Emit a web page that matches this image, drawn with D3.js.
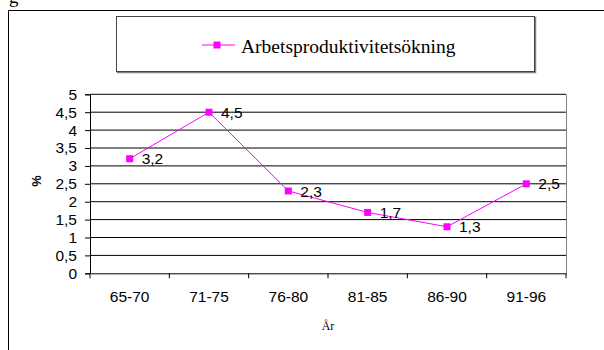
<!DOCTYPE html>
<html>
<head>
<meta charset="utf-8">
<script src="https://cdn.jsdelivr.net/npm/d3@7"></script>
<style>
  html, body { margin: 0; padding: 0; background: #fff; }
  svg { display: block; }
</style>
</head>
<body>
<svg id="chart" width="604" height="350"></svg>
<script>
// Labour productivity growth per period, percent
const periods = ["65-70", "71-75", "76-80", "81-85", "86-90", "91-96"];
const growth = [3.2, 4.5, 2.3, 1.7, 1.3, 2.5];
const yTicks = [0, 0.5, 1, 1.5, 2, 2.5, 3, 3.5, 4, 4.5, 5];
const seriesName = "Arbetsproduktivitetsökning";
const xTitle = "År";
const yTitle = "%";

const svg = d3.select("#chart");
const fmt = v => String(v).replace(".", ",");
const magenta = "#ff00ff";
const sans = "'Liberation Sans', Arial, sans-serif";
const serif = "'Liberation Serif', 'Times New Roman', serif";

const plot = { left: 90, right: 566, top: 94.3, bottom: 273.3 };

const x = d3.scaleBand().domain(periods).range([plot.left, plot.right]);
const y = d3.scaleLinear().domain([0, 5]).range([plot.bottom, plot.top]);

// Fragment of heading text above the frame
svg.append("text")
  .attr("x", 9).attr("y", 3)
  .attr("font-family", serif).attr("font-size", 19)
  .attr("fill", "#000")
  .text("g");

// Outer chart frame (continues past right and bottom edges)
svg.append("path")
  .attr("d", "M8.5,350 V10.5 H604")
  .attr("fill", "none").attr("stroke", "#000").attr("stroke-width", 1);

// Legend box
const lg = { x: 116.5, y: 16.5, w: 418, h: 55 };
svg.append("rect")
  .attr("x", lg.x + 1).attr("y", lg.y + 1).attr("width", lg.w).attr("height", lg.h)
  .attr("fill", "none").attr("stroke", "#808080").attr("stroke-width", 1.5);
svg.append("rect")
  .attr("x", lg.x).attr("y", lg.y).attr("width", lg.w).attr("height", lg.h)
  .attr("fill", "#fff").attr("stroke", "#444").attr("stroke-width", 1);
svg.append("line")
  .attr("x1", 202).attr("x2", 235).attr("y1", 45).attr("y2", 45)
  .attr("stroke", magenta).attr("stroke-width", 1);
svg.append("rect")
  .attr("x", 217 - 3.5).attr("y", 45 - 3.5).attr("width", 7).attr("height", 7)
  .attr("fill", magenta);
svg.append("text")
  .attr("x", 241).attr("y", 52.5)
  .attr("font-family", serif).attr("font-size", 19.5)
  .attr("fill", "#000")
  .text(seriesName);

// Gridlines
svg.append("g")
  .selectAll("line")
  .data(yTicks.filter(t => t > 0))
  .join("line")
  .attr("x1", plot.left).attr("x2", plot.right)
  .attr("y1", d => y(d)).attr("y2", d => y(d))
  .attr("stroke", "#000").attr("stroke-width", 1);

// Plot area right border
svg.append("line")
  .attr("x1", plot.right + 0.5).attr("x2", plot.right + 0.5)
  .attr("y1", plot.top).attr("y2", plot.bottom)
  .attr("stroke", "#808080").attr("stroke-width", 1);

// Y axis
const yAxis = svg.append("g")
  .attr("transform", `translate(${plot.left},0)`)
  .call(d3.axisLeft(y).tickValues(yTicks).tickFormat(fmt).tickSize(5).tickPadding(8));
yAxis.select(".domain").attr("stroke", "#000");
yAxis.selectAll(".tick line").attr("stroke", "#000");
yAxis.selectAll(".tick text")
  .attr("font-family", sans).attr("font-size", 15.5).attr("fill", "#000");

// X axis with ticks on category boundaries
const xAxis = svg.append("g")
  .attr("transform", `translate(0,${plot.bottom})`)
  .call(d3.axisBottom(x).tickSize(0).tickPadding(18));
xAxis.select(".domain").attr("stroke", "#000");
xAxis.selectAll(".tick text")
  .attr("font-family", sans).attr("font-size", 15.5).attr("fill", "#000");
const bounds = periods.map(p => x(p)).concat([x(periods[periods.length - 1]) + x.bandwidth()]);
xAxis.selectAll(".bound")
  .data(bounds)
  .join("line")
  .attr("class", "bound")
  .attr("x1", d => d).attr("x2", d => d)
  .attr("y1", 0).attr("y2", 5)
  .attr("stroke", "#000");

// Axis titles
svg.append("text")
  .attr("transform", "translate(41,181) rotate(-90)")
  .attr("text-anchor", "middle")
  .attr("font-family", sans).attr("font-size", 12.5).attr("font-weight", "bold")
  .attr("fill", "#000")
  .text(yTitle);
svg.append("text")
  .attr("x", (plot.left + plot.right) / 2).attr("y", 329.5)
  .attr("text-anchor", "middle")
  .attr("font-family", serif).attr("font-size", 12)
  .attr("fill", "#000")
  .text(xTitle);

// Series line, markers and value labels
const cx = (d, i) => x(periods[i]) + x.bandwidth() / 2;
svg.append("path")
  .datum(growth)
  .attr("d", d3.line().x(cx).y(d => y(d)))
  .attr("fill", "none").attr("stroke", magenta).attr("stroke-width", 1);
svg.append("g")
  .selectAll("rect")
  .data(growth)
  .join("rect")
  .attr("x", (d, i) => cx(d, i) - 3.5).attr("y", d => y(d) - 3.5)
  .attr("width", 7).attr("height", 7)
  .attr("fill", magenta);
svg.append("g")
  .selectAll("text")
  .data(growth)
  .join("text")
  .attr("x", (d, i) => cx(d, i) + 12).attr("y", d => y(d))
  .attr("dy", "0.36em")
  .attr("font-family", sans).attr("font-size", 15.5).attr("fill", "#000")
  .text(fmt);
</script>
</body>
</html>
